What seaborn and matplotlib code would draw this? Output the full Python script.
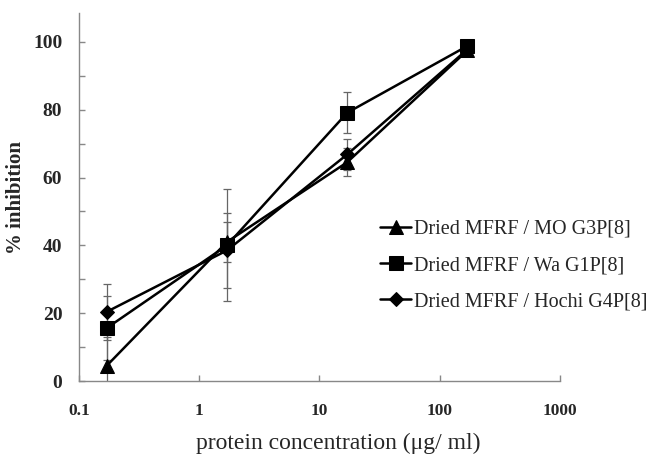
import numpy as np
import pandas as pd
import matplotlib.pyplot as plt
import seaborn as sns

# protein concentration (ug/ml)
conc = [0.17, 1.7, 17, 170]

series_names = [
    "Dried MFRF / MO G3P[8]",
    "Dried MFRF / Wa G1P[8]",
    "Dried MFRF / Hochi G4P[8]",
]
mo_mean = [4.5, 41.0, 64.5, 97.5]
mo_err = [8.6, 6.0, 4.1, 1.0]
wa_mean = [15.6, 40.0, 79.1, 98.8]
wa_err = [9.5, 16.5, 6.0, 1.0]
hochi_mean = [20.4, 38.5, 66.8, 97.8]
hochi_err = [8.3, 11.0, 4.5, 1.0]

df = pd.DataFrame({
    "conc": conc * 3,
    "inhibition": mo_mean + wa_mean + hochi_mean,
    "err": mo_err + wa_err + hochi_err,
    "series": [s for s in series_names for _ in conc],
})

sns.set_style("ticks")
plt.rcParams["font.family"] = ["Liberation Serif", "DejaVu Serif"]

fig = plt.figure(figsize=(6.71, 4.55), dpi=100)
ax = fig.add_axes([0.1177, 0.1626, 0.7169, 0.8088])

# error bars first, underneath
for name in series_names:
    sub = df[df["series"] == name]
    ax.errorbar(sub["conc"], sub["inhibition"], yerr=sub["err"],
                fmt="none", ecolor="#666666", elinewidth=0.9,
                capsize=3, capthick=0.9, zorder=1)

sns.lineplot(
    data=df, x="conc", y="inhibition", hue="series", style="series",
    hue_order=series_names, style_order=series_names,
    palette=["black"] * 3, markers=["^", "s", "D"], dashes=False,
    markersize=9.5, linewidth=1.8, markeredgecolor="black",
    ax=ax, zorder=3,
)
for ln in ax.get_lines():
    if ln.get_marker() == "D":
        ln.set_markersize(7.5)

ax.set_xscale("log")
ax.set_xlim(0.1, 1000)
ax.set_ylim(0, 108.5)
ax.set_xticks([0.1, 1, 10, 100, 1000])
ax.set_xticklabels(["0.1", "1", "10", "100", "1000"])
ax.xaxis.set_minor_locator(plt.NullLocator())
ax.set_yticks([0, 20, 40, 60, 80, 100])
ax.set_yticks([10, 30, 50, 70, 90], minor=True)

for sp in ["top", "right"]:
    ax.spines[sp].set_visible(False)
for sp in ["left", "bottom"]:
    ax.spines[sp].set_color("#888888")
    ax.spines[sp].set_linewidth(1.0)

ax.tick_params(axis="both", which="both", direction="in", color="#888888",
               length=4, width=1.0)
ax.tick_params(axis="x", pad=16, labelsize=12.5)
ax.tick_params(axis="y", pad=12, labelsize=14)
for lab in ax.get_xticklabels() + ax.get_yticklabels():
    lab.set_fontweight("bold")

ax.set_xlabel("protein concentration (μg/ ml)", fontsize=17)
ax.xaxis.set_label_coords(0.54, -0.14)
ax.set_ylabel("% inhibition", fontsize=15, fontweight="bold", labelpad=5)

leg = ax.legend(loc="upper left", bbox_to_anchor=(0.61, 0.46), frameon=False,
                fontsize=14.5, handlelength=1.5, handletextpad=0.15,
                labelspacing=0.85, borderaxespad=0)
for h in leg.legend_handles:
    if h.get_marker() == "D":
        h.set_markersize(7.5)

fig.savefig("out.png", dpi=100)
plt.close(fig)
